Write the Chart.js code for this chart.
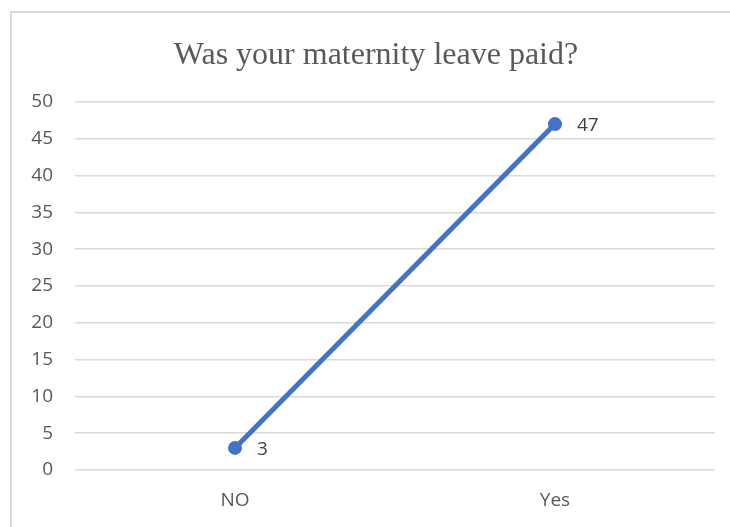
<!DOCTYPE html>
<html>
<head>
<meta charset="utf-8">
<script src="https://cdn.jsdelivr.net/npm/chart.js@4/dist/chart.umd.min.js"></script>
<style>
  body { margin: 0; background: #fff; }
  #wrap { width: 730px; height: 527px; }
</style>
</head>
<body>
<div id="wrap"><canvas id="leaveChart" width="730" height="527"></canvas></div>
<script>
const TITLE = 'Was your maternity leave paid?';
const categories = ['NO', 'Yes'];
const responses = [3, 47];
const yTicks = [0, 5, 10, 15, 20, 25, 30, 35, 40, 45, 50];

const BLUE = '#4472C4';
const TEXT = '#595959';
const GRID = '#d9d9d9';
const SANS = '"Open Sans", "Noto Sans", sans-serif';

// outer frame + title
const frame = {
  id: 'frame',
  beforeDraw(chart) {
    const ctx = chart.ctx;
    ctx.save();
    ctx.fillStyle = '#fff';
    ctx.fillRect(0, 0, chart.width, chart.height);
    ctx.strokeStyle = GRID;
    ctx.lineWidth = 2;
    ctx.strokeRect(11, 12, chart.width, chart.height);
    ctx.fillStyle = TEXT;
    ctx.font = '32px "Liberation Serif", "Times New Roman", serif';
    ctx.textAlign = 'center';
    ctx.textBaseline = 'alphabetic';
    ctx.fillText(TITLE, 376, 64);
    ctx.restore();
  }
};

// value labels to the right of each point
const pointLabels = {
  id: 'pointLabels',
  afterDatasetsDraw(chart) {
    const ctx = chart.ctx;
    const meta = chart.getDatasetMeta(0);
    ctx.save();
    ctx.fillStyle = '#404040';
    ctx.font = '19px ' + SANS;
    ctx.textAlign = 'left';
    ctx.textBaseline = 'middle';
    meta.data.forEach((pt, i) => {
      ctx.fillText(String(responses[i]), pt.x + 22, pt.y + 2);
    });
    ctx.restore();
  }
};

new Chart(document.getElementById('leaveChart'), {
  type: 'line',
  data: {
    labels: categories,
    datasets: [{
      data: responses,
      borderColor: BLUE,
      backgroundColor: BLUE,
      borderWidth: 5,
      pointRadius: 7,
      pointHoverRadius: 7,
      pointBorderWidth: 0,
      tension: 0
    }]
  },
  options: {
    responsive: false,
    animation: false,
    events: [],
    layout: { padding: { top: 102, right: 15, bottom: 0, left: 0 } },
    plugins: { legend: { display: false }, tooltip: { enabled: false } },
    scales: {
      x: {
        offset: true,
        grid: { display: false, drawTicks: false },
        border: { display: false },
        ticks: { color: TEXT, font: { family: SANS, size: 19 }, padding: 19 },
        afterFit(scale) { scale.height = 57; }
      },
      y: {
        min: 0,
        max: 50,
        afterBuildTicks(scale) { scale.ticks = yTicks.map(v => ({ value: v })); },
        grid: { color: GRID, lineWidth: 1.5, drawTicks: false },
        border: { display: false },
        ticks: { color: TEXT, font: { family: SANS, size: 19 }, padding: 22 },
        afterFit(scale) { scale.width = 75; }
      }
    }
  },
  plugins: [frame, pointLabels]
});
</script>
</body>
</html>
